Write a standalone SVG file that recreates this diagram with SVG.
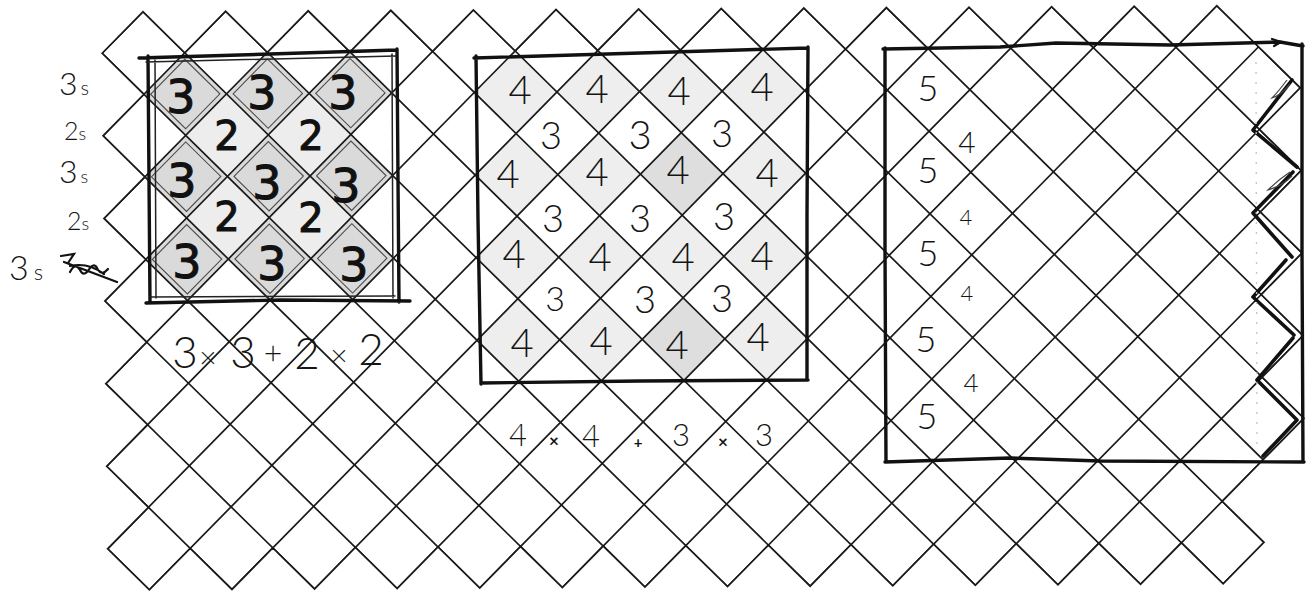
<svg xmlns="http://www.w3.org/2000/svg" width="1307" height="593" viewBox="0 0 1307 593">
<style>
.grid{fill:none;stroke:#1a1a1a;stroke-width:1.7;stroke-linejoin:miter}
.s3{fill:#dadada;stroke:none}
.s2{fill:#ededed;stroke:none}
.s4{fill:#eeeeee;stroke:none}
.s4d{fill:#dedede;stroke:none}
.box{fill:none;stroke:#111;stroke-width:3.4;stroke-linecap:round;stroke-linejoin:round}
.box2{fill:none;stroke:#222;stroke-width:1.5;stroke-linecap:round}
.zig{fill:none;stroke:#111;stroke-width:3.6;stroke-linecap:round;stroke-linejoin:round}
.mk{font-family:"DejaVu Sans",sans-serif;fill:#111;stroke:#111;stroke-width:1.1;text-anchor:middle}
.pen{font-family:Lato,"DejaVu Sans",sans-serif;font-weight:300;fill:#151515;text-anchor:middle}
.lab{font-family:Lato,"DejaVu Sans",sans-serif;font-weight:300;fill:#151515}
.op{font-weight:700;fill:#111}
.txt{opacity:0.995}
</style>
<defs>
<polygon id="dm" points="-1,0 0,-1 1,0 0,1"/>
<polygon id="dmi" points="-0.84,0 0,-0.84 0.84,0 0,0.84" fill="none" stroke="#4a4a4a" stroke-width="1.1" vector-effect="non-scaling-stroke"/>
<clipPath id="reg" clipPathUnits="userSpaceOnUse">
<polygon points="-1,0 0,-1 1,0 2,-1 3,0 4,-1 5,0 6,-1 7,0 8,-1 9,0 10,-1 11,0 12,-1 13,0 14,-1 15,0 16,-1 17,0 18,-1 19,0 20,-1 21,0 22,-1 23,0 24,-1 25,0 26,-1 27,0 28,1 27,2 28,3 27,4 28,5 27,6 28,7 27,8 28,9 27,10 26,11 27,12 26,13 25,12 24,13 23,12 22,13 21,12 20,13 19,12 18,13 17,12 16,13 15,12 14,13 13,12 12,13 11,12 10,13 9,12 8,13 7,12 6,13 5,12 4,13 3,12 2,13 1,12 0,13 -1,12 0,11 -1,10 0,9 -1,8 0,7 -1,6 0,5 -1,4 0,3 -1,2 0,1"/>
</clipPath>
</defs>
<rect width="1307" height="593" fill="#fff"/>
<g id="lattice" transform="matrix(41.3 -0.231 0.454 41.3 143.45 53)">
<g id="shading">
<use href="#dm" x="1" y="1" class="s3"/><use href="#dm" x="3" y="1" class="s3"/><use href="#dm" x="5" y="1" class="s3"/>
<use href="#dm" x="1" y="3" class="s3"/><use href="#dm" x="3" y="3" class="s3"/><use href="#dm" x="5" y="3" class="s3"/>
<use href="#dm" x="1" y="5" class="s3"/><use href="#dm" x="3" y="5" class="s3"/><use href="#dm" x="5" y="5" class="s3"/>
<use href="#dm" x="2" y="2" class="s2"/><use href="#dm" x="4" y="2" class="s2"/><use href="#dm" x="2" y="4" class="s2"/><use href="#dm" x="4" y="4" class="s2"/>
<use href="#dm" x="9" y="1" class="s4"/><use href="#dm" x="11" y="1" class="s4"/><use href="#dm" x="13" y="1" class="s4"/><use href="#dm" x="15" y="1" class="s4"/>
<use href="#dm" x="9" y="3" class="s4"/><use href="#dm" x="11" y="3" class="s4"/><use href="#dm" x="13" y="3" class="s4d"/><use href="#dm" x="15" y="3" class="s4"/>
<use href="#dm" x="9" y="5" class="s4"/><use href="#dm" x="11" y="5" class="s4"/><use href="#dm" x="13" y="5" class="s4"/><use href="#dm" x="15" y="5" class="s4"/>
<use href="#dm" x="9" y="7" class="s4"/><use href="#dm" x="11" y="7" class="s4"/><use href="#dm" x="13" y="7" class="s4d"/><use href="#dm" x="15" y="7" class="s4"/>
</g>
<g id="inner-diamonds">
<use href="#dmi" x="1" y="1"/><use href="#dmi" x="3" y="1"/><use href="#dmi" x="5" y="1"/>
<use href="#dmi" x="1" y="3"/><use href="#dmi" x="3" y="3"/><use href="#dmi" x="5" y="3"/>
<use href="#dmi" x="1" y="5"/><use href="#dmi" x="3" y="5"/><use href="#dmi" x="5" y="5"/>
</g>
<g id="grid-lines" clip-path="url(#reg)">
<path class="grid" vector-effect="non-scaling-stroke" d="M-2 1L30 -31M-2 3L30 -29M-2 5L30 -27M-2 7L30 -25M-2 9L30 -23M-2 11L30 -21M-2 13L30 -19M-2 15L30 -17M-2 17L30 -15M-2 19L30 -13M-2 21L30 -11M-2 23L30 -9M-2 25L30 -7M-2 27L30 -5M-2 29L30 -3M-2 31L30 -1M-2 33L30 1M-2 35L30 3M-2 37L30 5M-2 39L30 7M-2 41L30 9M-2 43L30 11"/>
<path class="grid" vector-effect="non-scaling-stroke" d="M-2 13L30 45M-2 11L30 43M-2 9L30 41M-2 7L30 39M-2 5L30 37M-2 3L30 35M-2 1L30 33M-2 -1L30 31M-2 -3L30 29M-2 -5L30 27M-2 -7L30 25M-2 -9L30 23M-2 -11L30 21M-2 -13L30 19M-2 -15L30 17M-2 -17L30 15M-2 -19L30 13M-2 -21L30 11M-2 -23L30 9M-2 -25L30 7M-2 -27L30 5M-2 -29L30 3M-2 -31L30 1"/>
</g>
<polygon id="grid-outline" class="grid" vector-effect="non-scaling-stroke" points="-1,0 0,-1 1,0 2,-1 3,0 4,-1 5,0 6,-1 7,0 8,-1 9,0 10,-1 11,0 12,-1 13,0 14,-1 15,0 16,-1 17,0 18,-1 19,0 20,-1 21,0 22,-1 23,0 24,-1 25,0 26,-1 27,0 28,1 27,2 28,3 27,4 28,5 27,6 28,7 27,8 28,9 27,10 26,11 27,12 26,13 25,12 24,13 23,12 22,13 21,12 20,13 19,12 18,13 17,12 16,13 15,12 14,13 13,12 12,13 11,12 10,13 9,12 8,13 7,12 6,13 5,12 4,13 3,12 2,13 1,12 0,13 -1,12 0,11 -1,10 0,9 -1,8 0,7 -1,6 0,5 -1,4 0,3 -1,2 0,1"/>
</g>

<g id="box-1">
<path class="box" d="M139 58 L270 54 L397 50 M397 49 L398 180 L399 302 M410 301 L280 300 L146 303 M148 56 L149 180 L150 303"/>
<path class="box2" d="M146 62 L396 56 M155 60 L156 298 M392 54 L393 298 M150 297 L395 296"/>
<g class="txt">
<text class="mk" font-size="46" x="181" y="113">3</text>
<text class="mk" font-size="46" x="262" y="109">3</text>
<text class="mk" font-size="46" x="343" y="109">3</text>
<text class="mk" font-size="40" x="227" y="150">2</text>
<text class="mk" font-size="40" x="311" y="150">2</text>
<text class="mk" font-size="46" x="182" y="197">3</text>
<text class="mk" font-size="46" x="267" y="199">3</text>
<text class="mk" font-size="46" x="346" y="202">3</text>
<text class="mk" font-size="40" x="227" y="231">2</text>
<text class="mk" font-size="40" x="311" y="232">2</text>
<text class="mk" font-size="46" x="187" y="278">3</text>
<text class="mk" font-size="46" x="272" y="280">3</text>
<text class="mk" font-size="46" x="354" y="281">3</text>
</g>
</g>

<g id="box-2">
<path class="box" d="M474 58 L640 53 L808 48 M808 47 L807 215 L807 380 M808 380 L640 381 L481 383 M476 56 L478 220 L481 384"/>
<g class="txt">
<text class="pen" font-size="40" x="520" y="104">4</text>
<text class="pen" font-size="40" x="597" y="103">4</text>
<text class="pen" font-size="40" x="679" y="105">4</text>
<text class="pen" font-size="40" x="762" y="101">4</text>
<text class="pen" font-size="38" x="551" y="149">3</text>
<text class="pen" font-size="40" x="640" y="149">3</text>
<text class="pen" font-size="38" x="722" y="147">3</text>
<text class="pen" font-size="40" x="508" y="188">4</text>
<text class="pen" font-size="40" x="597" y="186">4</text>
<text class="pen" font-size="40" x="678" y="184">4</text>
<text class="pen" font-size="40" x="767" y="187">4</text>
<text class="pen" font-size="38" x="553" y="232">3</text>
<text class="pen" font-size="38" x="640" y="232">3</text>
<text class="pen" font-size="38" x="724" y="230">3</text>
<text class="pen" font-size="40" x="514" y="268">4</text>
<text class="pen" font-size="40" x="600" y="271">4</text>
<text class="pen" font-size="40" x="683" y="271">4</text>
<text class="pen" font-size="40" x="762" y="270">4</text>
<text class="pen" font-size="34" x="555" y="311">3</text>
<text class="pen" font-size="38" x="645" y="313">3</text>
<text class="pen" font-size="38" x="722" y="312">3</text>
<text class="pen" font-size="40" x="522" y="357">4</text>
<text class="pen" font-size="40" x="601" y="355">4</text>
<text class="pen" font-size="40" x="677" y="359">4</text>
<text class="pen" font-size="40" x="758" y="351">4</text>
</g>
</g>

<g id="box-3">
<path class="box" d="M883 49 L1000 47 L1056 43 L1170 45 L1280 42 L1303 46 M1302 44 L1302 250 L1303 462 M1304 462 L1100 461 L1010 458 L885 462 M885 48 L885 250 L886 462"/>
<path d="M1272 39 L1281 42 L1274 46" fill="none" stroke="#111" stroke-width="2.2" stroke-linecap="round"/>
<path class="zig" d="M1292 80 L1253 130 L1297 167 M1293 172 L1253 213 L1292 257 M1286 260 L1253 297 L1294 335 M1293 338 L1257 380 L1297 420 L1263 456"/>
<path d="M1287 80 Q1278 92 1272 98 Q1280 96 1290 84 M1290 172 Q1278 180 1268 190 Q1282 186 1292 176" fill="none" stroke="#444" stroke-width="1.2"/>
<path d="M1256 62 L1257 452" fill="none" stroke="#c4c4c4" stroke-width="1.3" stroke-dasharray="2 8"/>
<g class="txt">
<text class="pen" font-size="36" x="928" y="101" font-weight="400">5</text>
<text class="pen" font-size="36" x="928" y="183" font-weight="400">5</text>
<text class="pen" font-size="36" x="928" y="266" font-weight="400">5</text>
<text class="pen" font-size="36" x="926" y="352" font-weight="400">5</text>
<text class="pen" font-size="36" x="927" y="429" font-weight="400">5</text>
<text class="pen" font-size="30" x="967" y="153">4</text>
<text class="pen" font-size="22" x="966" y="225" font-weight="400">4</text>
<text class="pen" font-size="22" x="967" y="301" font-weight="400">4</text>
<text class="pen" font-size="26" x="971" y="392">4</text>
</g>
</g>

<g id="row-labels">
<g class="txt">
<text class="lab" x="59" y="95" font-size="32">3<tspan font-size="20" dx="3">s</tspan></text>
<text class="lab" x="64" y="140" font-size="25">2<tspan font-size="18">s</tspan></text>
<text class="lab" x="59" y="183" font-size="32">3<tspan font-size="18" dx="3">s</tspan></text>
<text class="lab" x="67" y="230" font-size="25">2<tspan font-size="18">s</tspan></text>
<text class="lab" x="9" y="280" font-size="34">3<tspan font-size="22" dx="5">s</tspan></text>
</g>
<path d="M61 256 L74 254 L68 263 M70 272 Q75 262 80 270 Q84 278 90 268 Q95 262 98 270 Q102 276 108 269 M64 262 L117 282 M70 266 Q88 262 104 274" fill="none" stroke="#111" stroke-width="2.2" stroke-linecap="round"/>
</g>

<g id="formula-1" class="txt">
<text class="pen" font-size="44"><tspan x="185" y="368">3</tspan><tspan x="208" y="368" font-size="30">×</tspan><tspan x="243" y="368">3</tspan><tspan x="273" y="364" font-size="32">+</tspan><tspan x="307" y="369">2</tspan><tspan x="339" y="366" font-size="30">×</tspan><tspan x="371" y="365">2</tspan></text>
</g>
<g id="formula-2" class="txt">
<text class="pen" font-size="31"><tspan x="518" y="446">4</tspan><tspan x="554" y="447" font-size="17" class="op">×</tspan><tspan x="591" y="447">4</tspan><tspan x="638" y="448" font-size="15" class="op">+</tspan><tspan x="681" y="446">3</tspan><tspan x="723" y="448" font-size="17" class="op">×</tspan><tspan x="764" y="446">3</tspan></text>
</g>
</svg>
